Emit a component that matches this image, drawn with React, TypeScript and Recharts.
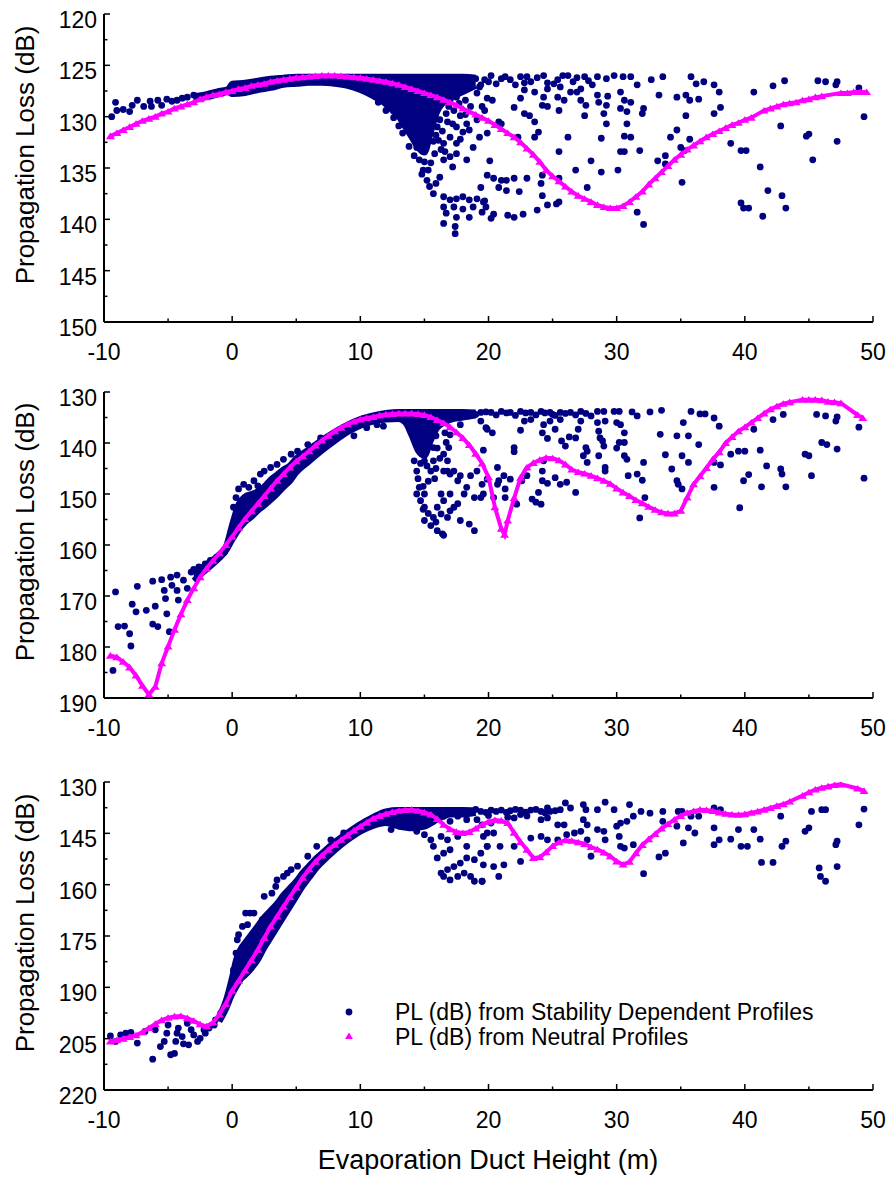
import { ComposedChart, Area, Scatter, XAxis, YAxis } from 'recharts';

const NAVY = '#000080';
const PINK = '#ff00ff';
const FONT = '"Liberation Sans", Arial, sans-serif';

const xTicks = [-10, -5, 0, 5, 10, 15, 20, 25, 30, 35, 40, 45, 50];
const xMajor = [-10, 0, 10, 20, 30, 40, 50];

// ---- panel 1 ----
const p1Ticks = [120, 122.5, 125, 127.5, 130, 132.5, 135, 137.5, 140, 142.5, 145, 147.5, 150];
const p1Major = [120, 125, 130, 135, 140, 145, 150];

const p1Neutral: [number, number][] = [
  [-9.5, 131.9], [-9, 131.6], [-8.5, 131.3], [-8, 131.0], [-7.5, 130.7], [-7, 130.4], [-6.5, 130.2], [-6, 130.0],
  [-5.5, 129.7], [-5, 129.5], [-4.5, 129.2], [-4, 129.0], [-3.5, 128.8], [-3, 128.6], [-2.5, 128.3], [-2, 128.1],
  [-1.5, 127.9], [-1, 127.8], [-0.5, 127.6], [0, 127.5], [0.5, 127.3], [1, 127.2], [1.5, 127.0], [2, 126.9],
  [2.5, 126.8], [3, 126.6], [3.5, 126.5], [4, 126.4], [4.5, 126.3], [5, 126.2], [5.5, 126.15], [6, 126.1],
  [6.5, 126.05], [7, 126.0], [7.5, 126.0], [8, 126.0], [8.5, 126.05], [9, 126.1], [9.5, 126.15], [10, 126.2],
  [10.5, 126.3], [11, 126.4], [11.5, 126.5], [12, 126.6], [12.5, 126.75], [13, 126.9], [13.5, 127.1], [14, 127.3],
  [14.5, 127.5], [15, 127.7], [15.5, 127.9], [16, 128.1], [16.5, 128.35], [17, 128.6], [17.5, 128.9], [18, 129.2],
  [18.5, 129.5], [19, 129.8], [19.5, 130.1], [20, 130.4], [20.5, 130.8], [21, 131.2], [21.5, 131.6], [22, 132.0],
  [22.5, 132.5], [23, 133.1], [23.5, 133.7], [24, 134.4], [24.5, 135.2], [25, 135.8], [25.5, 136.3], [26, 136.8],
  [26.5, 137.3], [27, 137.7], [27.5, 138.0], [28, 138.3], [28.5, 138.6], [29, 138.8], [29.5, 138.9], [30, 138.9],
  [30.5, 138.7], [31, 138.3], [31.5, 137.8], [32, 137.3], [32.5, 136.6], [33, 136.0], [33.5, 135.4], [34, 134.8],
  [34.5, 134.2], [35, 133.7], [35.5, 133.2], [36, 132.8], [36.5, 132.4], [37, 132.0], [37.5, 131.7], [38, 131.4],
  [38.5, 131.1], [39, 130.8], [39.5, 130.6], [40, 130.3], [40.5, 130.1], [41.5, 129.4], [42, 129.2], [42.5, 129.0],
  [43, 128.8], [43.5, 128.7], [44, 128.6], [44.5, 128.4], [45, 128.3], [45.5, 128.1], [46, 128.0], [47.5, 127.7],
  [48, 127.7], [48.5, 127.6], [49, 127.6], [49.5, 127.6],
];

// dense part of the stability-dependent cloud: [x, top, bottom]
const p1Band: [number, number, number][] = [
  [-3, 128.0, 128.3], [-2, 127.8, 128.1], [-1, 127.5, 127.8], [-0.3, 127.3, 127.6], [0, 126.8, 127.8],
  [1, 126.7, 127.7], [2, 126.5, 127.4], [3, 126.3, 127.2], [4, 126.2, 126.9], [5, 126.1, 126.8],
  [6, 126.1, 126.7], [7, 126.1, 126.7], [8, 126.1, 126.8], [9, 126.1, 127.0], [10, 126.1, 127.4],
  [11, 126.1, 128.0], [12, 126.1, 128.8], [12.5, 126.1, 129.4], [13, 126.1, 130.0], [13.5, 126.1, 131.0],
  [14, 126.1, 132.0], [14.5, 126.1, 133.0], [15, 126.1, 133.5], [15.5, 126.1, 131.5], [16, 126.1, 129.5],
  [16.5, 126.1, 128.6], [17, 126.1, 128.2], [18, 126.1, 127.6], [19, 126.2, 127.0],
];

const p1Stable: [number, number][] = [
  [-9.4, 130.0], [-9.1, 128.6], [-9.0, 129.4], [-8.5, 129.3], [-8.0, 129.5], [-7.8, 128.9], [-7.4, 128.4],
  [-6.9, 129.0], [-6.4, 128.5], [-6.3, 129.0], [-5.8, 128.4], [-5.5, 128.9], [-5.1, 128.3], [-4.7, 128.5],
  [-4.3, 128.4], [-3.9, 128.2], [-3.5, 128.1], [-3.0, 127.9],
  [12.6, 130.1], [13.0, 130.9], [13.3, 131.6], [13.8, 132.9], [14.2, 133.8], [14.8, 135.6], [15.0, 134.4],
  [15.5, 134.5], [15.8, 133.6], [16.3, 133.2], [12.0, 129.4], [11.4, 128.6],
  [15.8, 128.5], [16.0, 129.3], [15.6, 130.8], [15.9, 131.8], [16.4, 131.4], [16.8, 130.5], [16.9, 129.0],
  [17.3, 129.4], [17.8, 129.9], [17.7, 128.7], [18.2, 128.4], [18.6, 129.0], [18.2, 129.8], [16.1, 132.3],
  [16.6, 133.4], [17.8, 132.2], [15.3, 135.2], [14.4, 133.0],
  [14.6, 134.2], [14.9, 135.2], [15.2, 136.2], [15.4, 136.8], [15.9, 136.5], [16.2, 135.9], [16.5, 134.2],
  [17.0, 133.9], [17.5, 133.6], [17.2, 134.9], [16.5, 132.6], [15.7, 132.4], [17.0, 132.0], [17.5, 131.0],
  [16.2, 130.3], [15.4, 130.0], [16.7, 129.7], [17.2, 130.7], [18.0, 131.5], [18.3, 130.7], [18.5, 131.3],
  [16.2, 128.7], [17.0, 128.4], [17.5, 128.1], [18.0, 127.4], [19.1, 127.7], [19.3, 127.1], [15.2, 127.7],
  [16.0, 131.0], [17.5, 132.6], [18.3, 134.2], [18.8, 133.0], [19.3, 132.0], [19.9, 131.6], [19.1, 130.3],
  [19.5, 129.0], [15.7, 137.5],
  [16.5, 137.8], [17.0, 138.1], [17.5, 138.0], [18.0, 137.8], [18.5, 138.1], [19.1, 138.0], [19.6, 138.3],
  [16.5, 138.8], [17.3, 138.8], [18.0, 139.0], [18.8, 138.8], [19.5, 139.3], [16.7, 139.4], [17.5, 139.8],
  [18.5, 139.8], [16.5, 140.4], [17.4, 140.7], [17.4, 141.4],
  [19.0, 126.3], [19.4, 126.9], [20.0, 126.6], [20.6, 126.8], [21.3, 126.1], [22.1, 126.9], [22.8, 126.7],
  [23.0, 126.1], [23.8, 126.2], [24.6, 126.7], [25.4, 126.4], [26.9, 126.2], [27.8, 126.5],
  [19.7, 126.4], [20.2, 126.0], [21.0, 126.3], [21.7, 126.4], [22.5, 126.1], [23.3, 126.6], [24.3, 126.0],
  [25.1, 126.8], [25.8, 126.0], [26.2, 126.0], [26.6, 126.6], [27.2, 127.3], [27.5, 126.1], [28.1, 126.9],
  [28.5, 126.1], [29.2, 126.3], [29.8, 126.0], [30.5, 126.1], [31.1, 126.1], [31.6, 126.9], [32.7, 126.4],
  [33.6, 126.1], [35.8, 126.1], [36.2, 126.8], [36.8, 126.6], [37.6, 126.9], [38.0, 127.6], [40.7, 127.6],
  [42.2, 127.0], [43.1, 126.5], [45.7, 126.5], [46.3, 126.6], [47.1, 126.9], [47.2, 126.6], [48.9, 127.2],
  [49.3, 130.0],
  [19.9, 128.2], [20.3, 128.4], [22.0, 129.1], [22.5, 128.2], [22.8, 127.4], [23.6, 127.6], [24.3, 128.1],
  [24.6, 127.3], [25.4, 128.1], [25.6, 127.1], [25.9, 128.4], [26.4, 127.6], [26.9, 127.6], [27.2, 128.4],
  [27.6, 128.9], [28.5, 127.9], [28.6, 128.6], [29.2, 128.9], [29.3, 128.0], [30.3, 127.6], [30.6, 128.4],
  [30.3, 129.2], [30.8, 129.5], [31.1, 128.6], [32.1, 129.2], [32.0, 129.7], [33.3, 127.9], [34.7, 128.1],
  [35.4, 127.9], [35.7, 128.4], [36.4, 128.3], [38.1, 129.1], [37.6, 129.7], [19.7, 129.4], [20.8, 130.5],
  [21.0, 130.7], [22.8, 129.7], [23.2, 129.9], [23.6, 130.5], [24.2, 128.9], [24.6, 129.0], [25.5, 129.4],
  [27.5, 129.9], [29.0, 129.7], [29.2, 130.7], [30.8, 130.7], [34.2, 132.0], [34.7, 131.3], [35.0, 133.0],
  [35.3, 133.3], [35.4, 129.9], [35.7, 132.2], [31.8, 133.3], [30.6, 131.9], [31.1, 132.0], [30.3, 133.4],
  [30.6, 133.4], [28.8, 132.1], [28.0, 134.3], [26.2, 132.0], [25.5, 133.4], [23.9, 131.5], [23.6, 132.0],
  [22.3, 132.0], [20.1, 134.3], [19.9, 135.7], [20.4, 136.0], [21.0, 136.2], [21.4, 136.2], [20.8, 136.9],
  [21.4, 137.2], [22.0, 136.0], [22.4, 137.3], [23.0, 136.0], [24.1, 136.5], [24.2, 135.7], [24.2, 137.7],
  [25.5, 136.0], [25.5, 138.3], [25.3, 138.5], [24.6, 138.6], [23.8, 139.1], [22.7, 139.5], [22.0, 139.8],
  [21.5, 139.6], [20.4, 139.5], [20.2, 139.9], [19.8, 138.8], [19.7, 138.2], [19.4, 136.9], [26.8, 135.2],
  [27.7, 136.9], [28.8, 135.4], [30.1, 135.2], [33.2, 134.3], [33.8, 134.6], [33.8, 133.8], [31.6, 139.3],
  [32.1, 140.5], [35.1, 136.4], [38.9, 132.6], [39.7, 133.3], [40.1, 133.3], [41.2, 134.9], [42.8, 130.9],
  [45.0, 131.7], [44.8, 131.9], [45.3, 134.2], [47.2, 132.4], [39.7, 138.4], [39.9, 138.9], [40.3, 138.9],
  [41.4, 139.7], [41.8, 137.2], [42.9, 137.7], [43.2, 138.9],
];

// ---- panel 2 ----
const p2Ticks = [130, 135, 140, 145, 150, 155, 160, 165, 170, 175, 180, 185, 190];
const p2Major = [130, 140, 150, 160, 170, 180, 190];

const p2Neutral: [number, number][] = [
  [-9.5, 181.7], [-9, 182.0], [-8.5, 182.9], [-8, 184.0], [-7.5, 185.6], [-7, 187.6], [-6.5, 189.3], [-6, 187.8],
  [-5.5, 183.2], [-5, 179.9], [-4.5, 176.6], [-4, 173.6], [-3.5, 170.8], [-3, 168.5], [-2.5, 166.3], [-2, 164.6],
  [-1.5, 163.1], [-1, 161.6], [-0.5, 160.0], [0, 158.4], [0.5, 156.6], [1, 154.9], [1.5, 153.4], [2, 151.9],
  [2.5, 150.4], [3, 148.9], [3.5, 147.4], [4, 146.1], [4.5, 144.8], [5, 143.6], [5.5, 142.6], [6, 141.6],
  [6.5, 140.5], [7, 139.5], [7.5, 138.6], [8, 137.7], [8.5, 137.0], [9, 136.3], [9.5, 135.8], [10, 135.4],
  [10.5, 135.1], [11, 134.9], [11.5, 134.6], [12, 134.4], [12.5, 134.3], [13, 134.2], [13.5, 134.2], [14, 134.2],
  [14.5, 134.3], [15, 134.5], [15.5, 134.9], [16, 135.5], [16.5, 136.1], [17, 136.9], [17.5, 137.9], [18, 139.0],
  [18.5, 140.4], [19, 142.1], [19.5, 144.0], [20, 146.7], [20.5, 152.6], [21, 156.8], [21.25, 158.0], [21.5, 155.2],
  [22, 150.8], [22.5, 146.8], [23, 144.8], [23.5, 143.9], [24, 143.3], [24.5, 142.9], [25, 143.0], [25.5, 143.4],
  [26, 144.2], [26.5, 145.2], [27, 145.7], [27.5, 146.0], [28, 146.4], [28.5, 146.9], [29, 147.4], [29.5, 148.0],
  [30, 148.9], [30.5, 149.7], [31, 150.4], [31.5, 151.2], [32, 151.8], [32.5, 152.5], [33, 153.1], [33.5, 153.6],
  [34, 153.8], [34.5, 153.8], [35, 153.3], [35.5, 150.7], [36, 148.1], [36.5, 146.5], [37, 144.9], [37.5, 143.2],
  [38, 141.8], [38.5, 140.0], [39, 138.8], [39.5, 137.7], [40, 136.9], [40.5, 136.0], [41, 135.1], [41.5, 134.2],
  [42, 133.4], [42.5, 132.8], [43, 132.3], [43.5, 132.0], [44.5, 131.5], [45, 131.5], [45.5, 131.5], [46, 131.6],
  [46.5, 131.9], [47, 132.0], [47.5, 132.2], [48.8, 134.5], [49.2, 135.1],
];

const p2Band: [number, number, number][] = [
  [-3, 165.5, 167.0], [-2, 163.8, 164.8], [-1, 161.8, 162.6], [-0.5, 160.4, 161.2], [0, 156.0, 159.0],
  [0.5, 152.0, 157.0], [1, 150.5, 155.5], [1.5, 150.0, 154.5], [2, 149.5, 153.3], [2.5, 148.5, 152.3],
  [3, 147.2, 151.2], [3.5, 146.2, 150.0], [4, 145.2, 148.7], [4.5, 144.4, 147.5], [5, 143.0, 145.8],
  [6, 141.2, 143.6], [7, 139.4, 141.5], [8, 137.8, 139.6], [9, 136.4, 137.9], [10, 135.3, 136.6],
  [11, 134.6, 135.8], [12, 134.1, 135.4], [13, 133.9, 135.3], [13.5, 133.9, 136.0], [14, 133.9, 138.5],
  [14.5, 133.9, 141.5], [15, 133.9, 142.5], [15.5, 133.9, 139.5], [16, 133.9, 137.0], [17, 133.9, 135.5],
  [18, 133.9, 135.0], [19, 134.0, 134.6],
];

const p2Stable: [number, number][] = [
  [-9.3, 184.6], [-9.1, 169.2], [-8.9, 176.0], [-8.4, 175.9], [-8.0, 177.4], [-7.9, 179.8], [-7.8, 171.6],
  [-7.5, 173.1], [-7.4, 168.1], [-6.7, 172.8], [-6.2, 167.1], [-6.2, 175.5], [-6.0, 172.0], [-5.8, 176.0],
  [-5.5, 166.8], [-5.3, 168.9], [-5.2, 170.5], [-5.1, 173.5], [-4.9, 177.0], [-4.8, 166.3], [-4.7, 167.9],
  [-4.3, 165.9], [-4.3, 168.9], [-4.2, 170.8], [-3.8, 166.9], [-3.5, 168.5], [-3.2, 165.3], [-3.0, 164.8],
  [-2.6, 164.3], [-2.1, 163.7], [-1.7, 163.0], [-1.2, 162.4], [-0.6, 161.4],
  [0.3, 150.7], [0.5, 149.0], [0.9, 148.1], [1.3, 148.7], [1.7, 147.4], [2.0, 148.4], [2.5, 145.5],
  [3.0, 144.8], [3.5, 144.2], [4.0, 143.2], [4.6, 142.2], [5.1, 141.6], [5.9, 140.3], [6.9, 139.0],
  [0.1, 152.6], [1.2, 152.0], [2.2, 146.1], [9.5, 138.6], [10.5, 137.0], [11.3, 136.4], [11.8, 136.7],
  [14.2, 143.5], [14.4, 145.5], [14.5, 147.0], [14.9, 148.5], [15.3, 147.5], [15.8, 147.0], [14.7, 144.0],
  [15.2, 144.5], [15.9, 145.0], [16.2, 143.0], [16.0, 141.0], [16.6, 138.0], [15.9, 155.5], [15.3, 153.8],
  [14.9, 153.0],
  [15.0, 155.2], [15.5, 156.2], [16.0, 157.2], [16.4, 157.8], [16.5, 158.1], [15.7, 154.6], [16.3, 153.9],
  [16.8, 154.6], [17.0, 153.3], [17.3, 152.6], [17.6, 151.9], [17.8, 155.2], [18.5, 155.9], [18.9, 157.2],
  [14.7, 151.3], [14.4, 150.0], [14.6, 148.7], [15.0, 152.6], [16.0, 152.6], [16.5, 151.3], [15.0, 150.0],
  [16.3, 150.0], [17.0, 150.0], [18.1, 150.0], [18.9, 150.7], [19.6, 150.0], [18.3, 148.7], [17.6, 147.4],
  [17.0, 146.1], [16.5, 145.5], [15.5, 145.5], [15.0, 143.5], [14.7, 141.6], [15.0, 140.3], [15.7, 140.9],
  [16.5, 142.2], [16.8, 143.5], [15.7, 143.5], [15.4, 139.0], [15.9, 138.6], [16.7, 139.9], [17.0, 138.4],
  [16.9, 140.9], [16.8, 145.5], [17.3, 145.5], [17.8, 146.4], [18.6, 146.4], [19.1, 145.5], [19.5, 148.1],
  [19.8, 137.0], [19.4, 135.7], [17.8, 136.4], [15.6, 136.4], [17.0, 134.4],
  [19.0, 134.4], [19.8, 133.9], [20.6, 134.5], [21.4, 134.1], [22.1, 134.6], [22.9, 134.1], [23.7, 134.5],
  [24.4, 134.1], [25.2, 134.6], [26.0, 134.2], [26.8, 134.5], [27.6, 134.2],
  [19.4, 134.0], [20.2, 134.0], [21.0, 133.8], [21.7, 134.0], [22.5, 133.8], [23.3, 134.0], [24.1, 133.8],
  [24.8, 134.0], [25.6, 134.0], [26.4, 134.0], [27.2, 133.8], [28.0, 134.7], [28.5, 133.8], [29.0, 133.8],
  [29.8, 133.8], [30.2, 133.8], [31.2, 133.9], [31.6, 134.7], [32.6, 133.9], [33.5, 133.6], [35.8, 133.8],
  [36.5, 134.3], [36.9, 134.3], [37.6, 135.1], [38.0, 136.7], [43.0, 134.4], [45.6, 134.4], [46.3, 134.7],
  [47.2, 134.9], [47.1, 135.7], [48.9, 136.9],
  [19.9, 137.3], [20.3, 138.0], [19.6, 141.4], [22.5, 137.5], [22.0, 140.9], [22.0, 141.7], [22.8, 135.7],
  [23.3, 135.4], [24.2, 138.0], [24.3, 136.4], [24.6, 139.1], [24.8, 135.7], [25.0, 134.4], [25.2, 137.3],
  [25.6, 135.4], [25.7, 139.6], [26.0, 140.6], [26.3, 138.8], [26.8, 139.0], [27.0, 137.3], [27.2, 135.7],
  [27.6, 140.9], [27.7, 141.6], [27.4, 142.5], [27.7, 143.8], [28.5, 136.0], [28.6, 137.7], [28.7, 139.0],
  [28.9, 139.6], [29.0, 140.6], [28.6, 142.5], [29.1, 135.7], [30.0, 136.0], [30.3, 136.4], [30.2, 139.9],
  [30.6, 139.9], [30.0, 141.0], [30.6, 142.5], [30.8, 143.2], [30.6, 138.0], [29.1, 144.8], [29.1, 145.5],
  [30.9, 146.4], [31.6, 146.1], [32.0, 147.3], [32.1, 143.8], [32.2, 150.7], [31.8, 154.7], [33.4, 138.3],
  [33.8, 142.3], [34.3, 145.1], [34.7, 138.6], [35.2, 136.0], [35.6, 138.6], [35.1, 142.5], [35.6, 143.8],
  [34.7, 147.4], [34.8, 148.1], [35.1, 149.0], [36.4, 140.3], [37.6, 148.7], [37.6, 143.8], [38.1, 144.3],
  [38.9, 142.2], [39.5, 141.6], [40.0, 141.6], [39.9, 147.4], [40.3, 146.2], [39.6, 152.7], [41.2, 141.4],
  [41.3, 148.6], [41.7, 144.5], [42.8, 145.1], [42.9, 146.1], [43.2, 148.6], [40.7, 137.3], [42.2, 135.4],
  [44.7, 142.2], [45.0, 142.5], [45.2, 146.4], [46.0, 139.9], [46.4, 140.3], [47.2, 141.2], [49.3, 146.9],
  [20.7, 144.8], [21.2, 146.4], [21.7, 147.1], [23.0, 146.4], [22.6, 147.4], [19.9, 147.1], [20.7, 148.1],
  [21.3, 149.0], [19.4, 150.7], [20.4, 150.7], [21.3, 150.7], [22.2, 152.0], [23.4, 151.0], [23.7, 151.6],
  [23.9, 149.7], [24.1, 152.0], [24.2, 147.4], [24.6, 147.9], [25.2, 146.8], [25.6, 148.1], [26.1, 147.7],
  [26.8, 149.7], [24.2, 145.5], [24.3, 143.5], [20.8, 147.4],
];

// ---- panel 3 ----
const p3Ticks = [130, 137.5, 145, 152.5, 160, 167.5, 175, 182.5, 190, 197.5, 205, 212.5, 220];
const p3Major = [130, 145, 160, 175, 190, 205, 220];

const p3Neutral: [number, number][] = [
  [-9.5, 205.8], [-9, 205.4], [-8.5, 205.0], [-8, 204.5], [-7.5, 204.0], [-7, 203.1], [-6.5, 201.9], [-6, 200.7],
  [-5.5, 199.6], [-5, 198.9], [-4.5, 198.5], [-4, 198.4], [-3.5, 199.0], [-3, 199.8], [-2.5, 200.8], [-2, 201.4],
  [-1.5, 200.3], [-1, 197.9], [-0.5, 194.8], [0, 191.0], [0.5, 188.1], [1, 185.1], [1.5, 182.1], [2, 179.0],
  [2.5, 175.6], [3, 172.2], [3.5, 169.3], [4, 166.4], [4.5, 163.6], [5, 160.8], [5.5, 158.0], [6, 155.5],
  [6.5, 153.3], [7, 151.5], [7.5, 149.8], [8, 148.3], [8.5, 146.9], [9, 145.6], [9.5, 144.2], [10, 143.0],
  [10.5, 141.8], [11, 140.7], [11.5, 139.9], [12, 139.3], [12.5, 138.8], [13, 138.4], [13.5, 138.2], [14, 138.1],
  [14.5, 138.4], [15, 138.9], [15.5, 139.5], [16, 140.8], [16.5, 142.5], [17, 143.8], [17.5, 144.6], [18, 144.9],
  [18.5, 144.6], [19, 143.6], [19.5, 142.5], [20, 141.6], [20.5, 141.1], [21, 141.3], [21.5, 142.0], [22, 144.8],
  [22.5, 147.5], [23, 149.8], [23.5, 152.2], [24, 152.0], [24.5, 150.5], [25, 148.7], [25.5, 147.6], [26, 147.0],
  [26.5, 147.2], [27, 147.6], [27.5, 148.1], [28, 149.0], [28.5, 149.7], [29, 150.6], [29.5, 151.7], [30, 153.2],
  [30.5, 154.1], [31, 153.3], [31.5, 150.8], [32, 148.4], [32.5, 146.7], [33, 145.2], [33.5, 143.6], [34, 142.3],
  [34.5, 141.0], [35, 139.9], [35.5, 139.0], [36, 138.5], [36.5, 138.1], [37, 138.2], [37.5, 138.5], [38, 138.9],
  [38.5, 139.3], [39, 139.5], [39.5, 139.6], [40, 139.4], [40.5, 139.0], [41, 138.6], [41.5, 138.1], [42, 137.6],
  [42.5, 137.0], [43, 136.5], [43.5, 135.7], [44.5, 134.0], [45, 133.0], [45.5, 132.2], [46, 131.7], [46.5, 131.3],
  [47, 130.9], [47.5, 130.7], [48.8, 131.9], [49.3, 132.6],
];

const p3Band: [number, number, number][] = [
  [-1, 198.5, 200.0], [-0.5, 194.0, 196.5], [0, 187.0, 192.0], [0.3, 182.0, 190.0], [0.7, 178.5, 187.5],
  [1, 177.0, 186.5], [1.5, 174.5, 184.5], [2, 172.0, 182.0], [2.5, 169.5, 178.5], [3, 167.5, 175.5],
  [3.5, 165.5, 172.5], [4, 163.0, 169.5], [4.5, 161.0, 166.5], [5, 159.0, 163.5], [5.5, 156.5, 160.5],
  [6, 154.5, 158.0], [6.5, 152.5, 155.5], [7, 150.8, 153.5], [8, 147.5, 150.0], [9, 144.8, 147.0],
  [10, 142.3, 144.5], [11, 140.2, 142.8], [12, 138.6, 142.0], [13, 138.2, 143.0], [14, 138.2, 143.5],
  [15, 138.2, 143.0], [16, 138.2, 141.0], [17, 138.2, 139.5], [18, 138.2, 139.5], [19, 138.3, 139.0],
];

const p3Stable: [number, number][] = [
  [-9.5, 204.2], [-9.1, 205.8], [-8.7, 203.9], [-8.3, 203.4], [-7.9, 203.2], [-7.4, 206.3], [-6.8, 202.9],
  [-6.2, 211.0], [-6.0, 202.4], [-5.6, 207.3], [-5.3, 205.8], [-5.1, 203.4], [-5.0, 201.0], [-4.8, 209.7],
  [-4.5, 209.3], [-4.4, 205.8], [-4.3, 203.4], [-4.2, 201.9], [-3.9, 204.4], [-3.8, 206.5], [-3.5, 200.5],
  [-3.4, 206.8], [-3.2, 202.4], [-3.0, 203.9], [-2.7, 205.8], [-2.5, 204.9], [-2.2, 202.4], [-2.1, 203.4],
  [-1.8, 201.9], [-1.4, 201.0], [-1.3, 199.5], [-0.9, 197.6], [-0.5, 194.6],
  [0.1, 184.9], [0.3, 180.0], [0.4, 176.1], [0.5, 174.6], [0.8, 172.2], [1.05, 168.3], [1.4, 168.3],
  [1.7, 168.3], [1.2, 171.7], [2.0, 174.2], [1.4, 176.1], [0.9, 178.1], [0.7, 181.0], [2.35, 170.2],
  [2.5, 163.4], [3.1, 162.5], [3.4, 160.5], [4.0, 157.6], [4.6, 155.6], [3.5, 166.4], [3.0, 168.3],
  [5.1, 154.6], [5.9, 151.7], [6.6, 148.8], [7.7, 146.9], [8.7, 144.9], [9.5, 143.9], [3.5, 158.6],
  [4.3, 156.6],
  [12.4, 143.9], [13.1, 142.9], [13.9, 142.0], [14.4, 144.4], [15.0, 145.4], [15.5, 146.9], [15.7, 148.8],
  [16.0, 152.2], [16.3, 156.6], [16.5, 157.6], [17.0, 158.6], [17.6, 157.6], [18.1, 156.6], [18.6, 157.6],
  [18.9, 159.0], [19.5, 159.0], [16.8, 155.6], [17.3, 154.7], [17.8, 153.7], [18.3, 152.2], [18.9, 152.7],
  [19.4, 150.8], [19.9, 148.8], [16.5, 150.8], [17.0, 149.8], [16.8, 146.9], [17.6, 145.9], [16.3, 145.9],
  [18.3, 148.8], [19.9, 144.9], [19.5, 142.5], [19.1, 141.0], [18.3, 141.0], [17.6, 140.0], [17.0, 141.5],
  [16.5, 140.0], [15.7, 141.5],
  [19.0, 138.0], [19.8, 138.9], [20.6, 138.6], [21.4, 138.9], [22.1, 138.0], [22.9, 138.8], [23.7, 138.0],
  [24.4, 139.0], [25.2, 138.4], [20.0, 139.8], [21.5, 140.3], [23.0, 139.9],
  [19.4, 138.6], [20.2, 138.2], [21.0, 138.2], [21.7, 138.4], [22.5, 138.2], [23.3, 138.2], [24.1, 138.6],
  [24.6, 137.6], [24.8, 138.6], [26.0, 136.1], [25.6, 138.1], [26.4, 137.6], [27.4, 136.6], [27.6, 138.1],
  [28.5, 138.1], [29.1, 135.9], [29.8, 138.1], [31.0, 136.6], [31.9, 138.6], [32.6, 139.1], [33.6, 138.6],
  [34.8, 138.6], [35.1, 138.6], [35.8, 140.0], [36.4, 140.0], [37.6, 137.6], [38.1, 138.1], [42.8, 140.0],
  [45.2, 138.6], [46.0, 138.1], [46.3, 138.1], [49.3, 137.9],
  [20.2, 142.0], [22.0, 140.5], [22.5, 139.5], [24.1, 141.0], [24.6, 140.5], [25.4, 142.5], [25.9, 142.5],
  [26.1, 145.4], [26.7, 144.9], [27.2, 144.4], [27.4, 141.0], [27.7, 142.5], [28.5, 143.9], [29.0, 144.4],
  [30.0, 142.9], [30.3, 142.0], [30.8, 141.5], [31.3, 140.0], [30.2, 145.9], [30.3, 148.8], [30.6, 149.3],
  [31.3, 148.3], [29.1, 146.9], [27.7, 146.9], [28.0, 151.7], [25.4, 146.9], [24.6, 146.9], [24.1, 145.9],
  [23.3, 146.4], [22.0, 148.8], [20.9, 148.8], [19.9, 148.8], [19.6, 145.9], [20.4, 144.9], [22.5, 153.2],
  [21.2, 154.2], [20.4, 154.7], [19.6, 154.2], [20.8, 157.6], [19.5, 159.0], [32.1, 156.8], [33.3, 151.9],
  [33.8, 150.8], [33.6, 141.5], [34.7, 142.9], [35.6, 143.4], [36.1, 144.9], [35.2, 147.8], [37.6, 143.4],
  [37.6, 148.3], [38.0, 146.9], [38.9, 146.7], [39.5, 143.9], [39.7, 148.8], [40.2, 148.8], [40.7, 143.9],
  [41.2, 146.7], [41.3, 153.5], [42.2, 153.5], [42.9, 148.8], [43.2, 147.3], [44.7, 144.4], [45.0, 143.4],
  [45.8, 155.1], [45.9, 157.6], [46.3, 159.0], [47.1, 148.3], [47.2, 147.3], [47.2, 154.7], [48.9, 142.5],
];

const legendItems = ['PL (dB) from Stability Dependent Profiles', 'PL (dB) from Neutral Profiles'];

const Dot = (p: any) => <circle cx={p.cx} cy={p.cy} r={3.4} fill={NAVY} />;
const Tri = (p: any) => (
  <polygon points={`${p.cx - 4.5},${p.cy + 3} ${p.cx + 4.5},${p.cy + 3} ${p.cx},${p.cy - 3.6}`} fill={PINK} />
);

function XTick(props: any) {
  const { x, y, payload } = props;
  const major = xMajor.includes(payload.value);
  return (
    <g>
      <line x1={x} x2={x} y1={y} y2={y - (major ? 6 : 3.5)} stroke="#000" strokeWidth={1.5} />
      {major && (
        <text x={x} y={y + 38} textAnchor="middle" fontSize={23} fontFamily={FONT} fill="#000">
          {payload.value}
        </text>
      )}
    </g>
  );
}

const yTick = (major: number[]) => (props: any) => {
  const { x, y, payload } = props;
  const isMajor = major.includes(payload.value);
  return (
    <g>
      <line x1={x} x2={x + (isMajor ? 6 : 3.5)} y1={y} y2={y} stroke="#000" strokeWidth={1.5} />
      {isMajor && (
        <text x={x - 7} y={y + 14} textAnchor="end" fontSize={23} fontFamily={FONT} fill="#000">
          {payload.value}
        </text>
      )}
    </g>
  );
};

interface PanelProps {
  top: number;
  plotHeight: number;
  domain: [number, number];
  ticks: number[];
  major: number[];
  neutral: [number, number][];
  band: [number, number, number][];
  stable: [number, number][];
}

function Panel({ top, plotHeight, domain, ticks, major, neutral, band, stable }: PanelProps) {
  const bandData = band.map(([x, lo, hi]) => ({ x, band: [lo, hi] }));
  const stableData = stable.map(([x, y]) => ({ x, y }));
  const neutralData = neutral.map(([x, y]) => ({ x, y }));
  return (
    <div style={{ position: 'absolute', left: 0, top: top - 10 }}>
      <ComposedChart width={893} height={plotHeight + 62} data={bandData}
        margin={{ top: 10, right: 20, bottom: 2, left: 44 }}>
        <XAxis
          type="number"
          dataKey="x"
          domain={[-10, 50]}
          ticks={xTicks}
          interval={0}
          allowDataOverflow
          height={50}
          tickSize={0}
          tickMargin={0}
          tickLine={false}
          axisLine={{ stroke: '#000', strokeWidth: 2 }}
          tick={<XTick />}
        />
        <YAxis
          type="number"
          dataKey="y"
          domain={domain}
          reversed
          ticks={ticks}
          interval={0}
          allowDataOverflow
          width={60}
          tickSize={0}
          tickMargin={0}
          tickLine={false}
          axisLine={{ stroke: '#000', strokeWidth: 2 }}
          tick={yTick(major)}
        />
        <Area
          dataKey="band"
          type="monotone"
          fill={NAVY}
          fillOpacity={1}
          stroke={NAVY}
          strokeWidth={6}
          isAnimationActive={false}
        />
        <Scatter data={stableData} fill={NAVY} shape={Dot} isAnimationActive={false} />
        <Scatter
          data={neutralData}
          fill={PINK}
          shape={Tri}
          line={{ stroke: PINK, strokeWidth: 4 }}
          isAnimationActive={false}
        />
      </ComposedChart>
    </div>
  );
}

export default function App() {
  const yTitleCenters = [155, 532, 923];
  return (
    <div style={{ position: 'absolute', left: 0, top: 0, width: 893, height: 1182, background: '#fff' }}>
      <Panel top={14} plotHeight={308} domain={[120, 150]} ticks={p1Ticks} major={p1Major}
        neutral={p1Neutral} band={p1Band} stable={p1Stable} />
      <Panel top={392} plotHeight={306} domain={[130, 190]} ticks={p2Ticks} major={p2Major}
        neutral={p2Neutral} band={p2Band} stable={p2Stable} />
      <Panel top={782} plotHeight={308} domain={[130, 220]} ticks={p3Ticks} major={p3Major}
        neutral={p3Neutral} band={p3Band} stable={p3Stable} />
      <svg width={893} height={1182} style={{ position: 'absolute', left: 0, top: 0, pointerEvents: 'none' }}>
        {yTitleCenters.map((cy) => (
          <text key={cy} x={25} y={cy} transform={`rotate(-90, 25, ${cy})`} textAnchor="middle"
            dominantBaseline="central" fontSize={26} fontFamily={FONT} fill="#000">
            Propagation Loss (dB)
          </text>
        ))}
        <text x={488} y={1160} textAnchor="middle" dominantBaseline="central" fontSize={27} fontFamily={FONT} fill="#000">
          Evaporation Duct Height (m)
        </text>
        <circle cx={349} cy={1012} r={3.4} fill={NAVY} />
        <polygon points="345,1039 353,1039 349,1032.6" fill={PINK} />
        {legendItems.map((t, i) => (
          <text key={t} x={395} y={1012 + i * 25} dominantBaseline="central" fontSize={23} fontFamily={FONT} fill="#000">
            {t}
          </text>
        ))}
      </svg>
    </div>
  );
}
